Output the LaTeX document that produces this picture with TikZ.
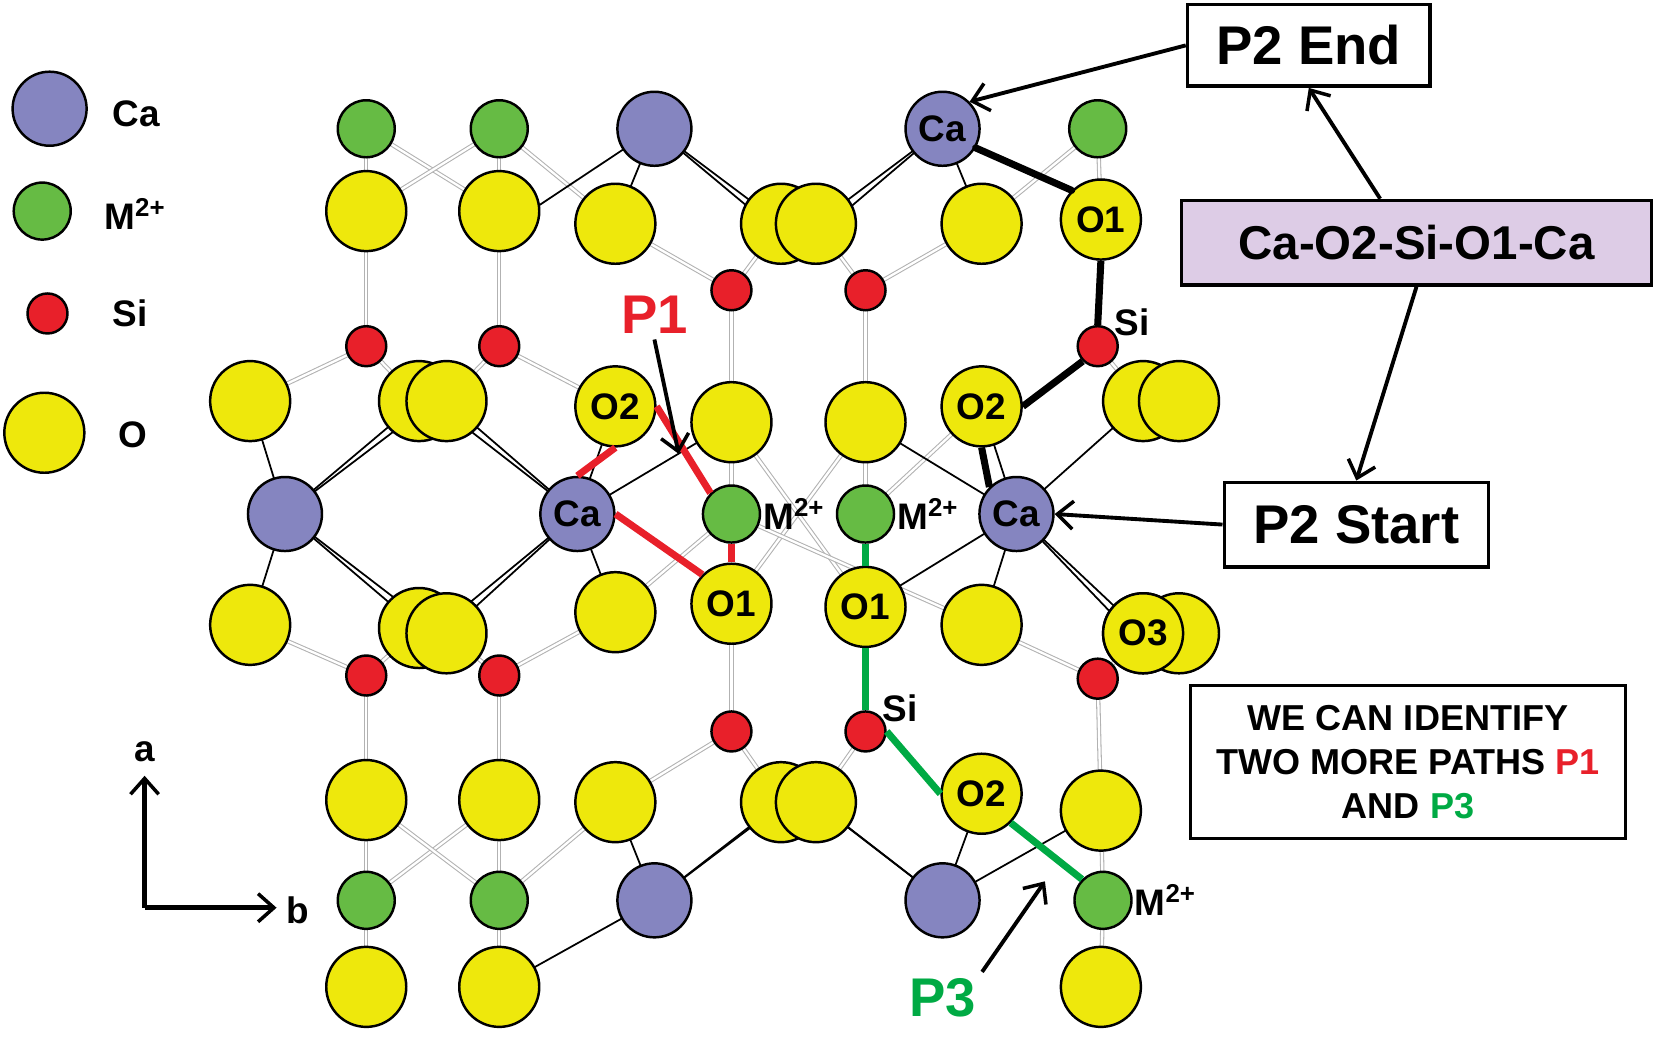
\documentclass[tikz,border=0pt]{standalone}
\usepackage{fontspec}
\setmainfont{Liberation Sans}
\usetikzlibrary{positioning,arrows.meta}
\definecolor{caC}{HTML}{8585C0}
\definecolor{mC}{HTML}{66BB44}
\definecolor{siC}{HTML}{E8202A}
\definecolor{oC}{HTML}{EEE80C}
\definecolor{lav}{HTML}{DDCCE6}
\definecolor{pGreen}{HTML}{00AA44}
\newcommand{\Mtwo}{M\textsuperscript{2+}}
\tikzset{
  atom/.style={circle,draw=black,line width=1.4pt,inner sep=0pt,font=\bfseries\fontsize{21}{21}\selectfont},
  ca/.style={atom,fill=caC,minimum size=1.48cm},
  mm/.style={atom,fill=mC,minimum size=1.14cm},
  si/.style={atom,fill=siC,minimum size=0.80cm},
  ox/.style={atom,fill=oC,minimum size=1.60cm},
  gb/.style={draw=gray!60,line width=0.6pt,double=white,double distance=1.3pt},
  bb/.style={draw=black,line width=1pt},
  lbl/.style={font=\bfseries\fontsize{21}{21}\selectfont,inner sep=1pt},
  box/.style={draw=black,line width=2pt,fill=white,font=\bfseries\fontsize{31}{31}\selectfont},
  pth/.style={line width=4pt},
  arr/.style={-{Straight Barb[length=9pt,width=16pt,line width=2pt]},line width=2.2pt}
}
\begin{document}
\begin{tikzpicture}[x=0.02111cm,y=-0.02111cm]
\useasboundingbox (0,0) rectangle (1568,982);
% grey bonds
\foreach \xa/\ya/\xb/\yb in {347/122/347/200,473/122/473/200,347/122/473/200,473/122/347/200,
  473/122/583/212,1040/122/1043/208,1040/122/930/212,
  347/328/347/200,347/328/237/380,347/328/397/380,473/328/473/200,473/328/423/380,473/328/583/385,
  693/275/740/212,693/275/693/400,693/275/583/212,820/275/773/212,820/275/820/400,820/275/930/212,
  1040/328/1083/380,693/487/693/400,693/487/583/580,820/487/820/400,820/487/930/385,
  693/400/820/575,820/400/693/572,693/487/930/592,
  347/640/237/592,347/640/397/595,347/640/347/758,473/640/423/600,473/640/583/580,473/640/473/758,
  693/693/693/572,693/693/740/760,693/693/583/760,820/693/773/760,
  1040/643/1083/600,1040/643/1043/768,1040/643/930/592,
  347/853/347/758,347/853/347/935,347/853/473/758,473/853/473/758,473/853/473/935,473/853/347/758,
  473/853/583/760,1045/853/1043/768,1045/853/1043/935}
  \draw[gb] (\xa,\ya) -- (\xb,\yb);
% black bonds
\foreach \xa/\ya/\xb/\yb in {620/122/510/195,620/122/583/212,620/122/740/212,620/122/735/218,
  893/122/773/212,893/122/780/218,893/122/930/212,
  270/487/237/380,270/487/397/380,270/487/403/386,270/487/237/592,270/487/397/595,270/487/403/589,
  547/487/423/380,547/487/583/385,547/487/423/600,547/487/583/580,547/487/693/400,547/487/417/386,547/487/417/594,
  963/487/930/385,963/487/820/575,963/487/930/592,963/487/1083/600,963/487/1077/606,963/487/820/400,963/487/1083/380,
  620/853/583/760,620/853/740/760,620/853/735/766,620/853/473/935,
  893/853/773/760,893/853/780/766,893/853/930/752,893/853/1043/768}
  \draw[bb] (\xa,\ya) -- (\xb,\yb);
% atoms
\foreach \x/\y in {347/200,473/200,583/212,740/212,930/212,
  237/380,397/380,693/400,820/400,1083/380,
  237/592,397/595,583/580,930/592,1083/600,
  347/758,473/758,583/760,740/760,1043/768,347/935,473/935,1043/935}
  \node[ox] at (\x,\y) {};
\node[ox] at (773,212) {};
\node[ox] at (1117,380) {};
\node[ox] at (423,380) {};
\node[ox] at (1117,600) {};
\node[ox] at (423,600) {};
\node[ox] at (773,760) {};
\foreach \x/\y in {347/328,473/328,693/275,820/275,347/640,473/640,693/693,1040/643}
  \node[si] at (\x,\y) {};
\foreach \x/\y in {347/122,473/122,1040/122,347/853,473/853}
  \node[mm] at (\x,\y) {};
\foreach \x/\y in {620/122,270/487,620/853,893/853}
  \node[ca] at (\x,\y) {};
% labelled atoms
\node[ca] (caTop) at (893,122) {Ca};
\node[ox] (o1Top) at (1043,208) {O1};
\node[si] (siTop) at (1040,328) {};
\node[ox] (o2Right) at (930,385) {O2};
\node[ca] (caRight) at (963,487) {Ca};
\node[ox] (o2Left) at (583,385) {O2};
\node[ca] (caMid) at (547,487) {Ca};
\node[mm] (mLeft) at (693,487) {};
\node[ox] (o1Left) at (693,572) {O1};
\node[mm] (mRight) at (820,487) {};
\node[ox] (o1Right) at (820,575) {O1};
\node[si] (siBot) at (820,693) {};
\node[ox] (o2Bot) at (930,752) {O2};
\node[mm] (mBot) at (1045,853) {};
\node[ox] (o3) at (1083,600) {O3};
% paths
\draw[pth,line cap=round] (caTop.-30) -- (o1Top.north west);
\draw[pth] (o1Top.south) -- (siTop.north);
\draw[pth] (siTop.south west) -- (o2Right.east);
\draw[pth] (o2Right.south) -- (caRight.north west);
\draw[pth,siC] (o2Left.south) -- (caMid.north);
\draw[pth,siC] (o2Left.east) -- (mLeft.north west);
\draw[pth,siC] (caMid.east) -- (o1Left.north west);
\draw[pth,siC] (mLeft.south) -- (o1Left.north);
\draw[pth,pGreen] (mRight.south) -- (o1Right.north);
\draw[pth,pGreen] (o1Right.south) -- (siBot.north);
\draw[pth,pGreen] (siBot.east) -- (o2Bot.west);
\draw[pth,pGreen] (o2Bot.south east) -- (mBot.north west);
\node[lbl,above right=-4pt and 0pt of siTop] {Si};
\node[lbl,right=0pt of mLeft] {\Mtwo};
\node[lbl,right=0pt of mRight] {\Mtwo};
\node[lbl,above right=-4pt and 0pt of siBot] {Si};
\node[lbl,right=0pt of mBot] {\Mtwo};
% legend
\node[ca] (legCa) at (47,103) {};
\node[mm] (legM) at (40,200) {};
\node[si] (legSi) at (45,297) {};
\node[ox] (legO) at (42,410) {};
\node[lbl,anchor=west] at (105,108) {Ca};
\node[lbl,anchor=west] at (97,203) {\Mtwo};
\node[lbl,anchor=west] at (105,297) {Si};
\node[lbl,anchor=west] at (110,412) {O};
% axes
\coordinate (origin) at (137,860);
\coordinate (aTip) at (137,735);
\coordinate (bTip) at (262,860);
\draw[arr,line width=2.8pt] (origin) -- (aTip);
\draw[arr,line width=2.8pt] (origin) -- (bTip);
\node[lbl] at (137,712) {a};
\node[lbl] at (282,862) {b};
% boxes
\node[box,minimum width=4.85cm,minimum height=1.63cm] (endBox) at (1240,43) {P2 End};
\node[box,fill=lav,minimum width=9.4cm,minimum height=1.69cm,font=\bfseries\fontsize{27}{27}\selectfont] (pathBox) at (1342,230) {Ca-O2-Si-O1-Ca};
\node[box,minimum width=5.28cm,minimum height=1.69cm] (startBox) at (1285,497) {P2 Start};
\node[box,minimum width=8.7cm,minimum height=3.06cm,align=center,font=\bfseries\fontsize{20.5}{25}\selectfont] (noteBox) at (1334,722)
  {WE CAN IDENTIFY\\TWO MORE PATHS \textcolor{siC}{P1}\\AND \textcolor{pGreen}{P3}};
\draw[arr] (endBox.west) -- (caTop.north east);
\draw[arr] (pathBox.north west) ++(190,0) -- (endBox.south);
\draw[arr] (pathBox.south) -- (startBox.north);
\draw[arr] (startBox.west) -- (caRight.east);
\node[font=\bfseries\fontsize{31}{31}\selectfont,text=siC] (p1) at (620,298) {P1};
\draw[arr] (p1.south) -- (643,430);
\node[font=\bfseries\fontsize{31}{31}\selectfont,text=pGreen] (p3) at (893,945) {P3};
\draw[arr] (p3.north east) -- (990,835);
\end{tikzpicture}
\end{document}
